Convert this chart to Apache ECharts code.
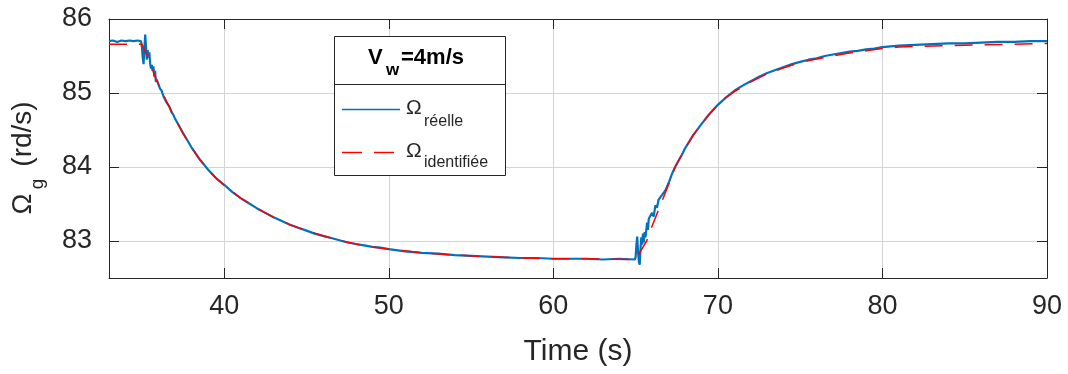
<!DOCTYPE html>
<html>
<head>
<meta charset="utf-8">
<script src="https://cdn.jsdelivr.net/npm/echarts@6/dist/echarts.min.js"></script>
<style>
html,body{margin:0;padding:0;background:#fff;}
#chart{width:1068px;height:374px;}
</style>
</head>
<body>
<div id="chart"></div>
<script>
// Measured signal (Omega réelle)
const timeReal = [
 33.0,33.25,33.5,33.75,34.0,34.25,34.5,34.75,34.95,
 35.0,35.05,35.1,35.15,35.2,35.25,35.3,35.35,35.4,35.45,35.5,35.55,35.6,35.65,35.7,35.75,35.8,35.85,35.9,36.0,36.1,36.2,36.3,36.4,36.5,36.6,36.7,36.8,36.9,37.0,
 37.5,38,38.5,39,39.5,40,40.5,41,41.5,42,42.5,43,43.5,44,44.5,45,45.5,46,46.5,47,47.5,48,48.5,49,49.5,50,
 51,52,53,54,55,56,57,58,59,60,61,62,63,64,64.95,
 65.0,65.05,65.1,65.15,65.2,65.25,65.3,65.35,65.4,65.45,65.5,65.55,65.6,65.7,65.75,65.8,65.9,66.0,66.1,66.2,66.3,66.4,66.5,66.6,66.8,67.0,67.2,67.4,67.6,67.8,
 68,68.5,69,69.5,70,70.5,71,71.5,72,72.5,73,73.5,74,74.5,75,75.5,76,76.5,77,77.5,78,78.5,79,79.5,80,
 81,82,83,84,85,86,87,88,89,90
];
const omegaReal = [
 85.70,85.71,85.69,85.71,85.70,85.71,85.70,85.71,85.70,
 85.62,85.48,85.39,85.60,85.79,85.62,85.45,85.58,85.50,85.55,85.40,85.33,85.38,85.30,85.36,85.22,85.30,85.15,85.18,85.12,85.06,85.03,84.96,84.94,84.87,84.84,84.80,84.74,84.71,84.66,
 84.46,84.27,84.11,83.97,83.85,83.76,83.66,83.58,83.51,83.44,83.38,83.32,83.27,83.22,83.18,83.14,83.10,83.07,83.04,83.01,82.98,82.96,82.94,82.92,82.91,82.89,
 82.86,82.84,82.83,82.81,82.80,82.79,82.78,82.77,82.77,82.76,82.76,82.76,82.75,82.76,82.75,
 82.78,82.95,83.06,82.85,82.72,82.68,82.90,83.05,82.95,83.10,82.98,83.12,83.05,83.25,83.15,83.30,83.28,83.38,83.33,83.48,83.45,83.56,83.55,83.62,83.68,83.78,83.90,84.00,84.08,84.16,
 84.25,84.43,84.58,84.72,84.84,84.94,85.03,85.10,85.16,85.22,85.27,85.31,85.35,85.39,85.42,85.45,85.47,85.50,85.52,85.54,85.56,85.57,85.59,85.60,85.62,
 85.64,85.65,85.66,85.67,85.67,85.68,85.69,85.69,85.70,85.70
];
// Identified model (Omega identifiée)
const timeIdent = [
 33.0,35.0,35.4,35.8,36.2,36.6,37.0,37.5,38,38.5,39,39.5,40,41,42,43,44,45,46,47,48,49,50,52,54,56,58,60,62,65,
 65.67,66,66.5,67,67.4,68,68.5,69,69.5,70,70.5,71,72,73,74,75,76,77,78,79,80,81,82,84,86,88,90
];
const omegaIdent = [
 85.66,85.66,85.47,85.22,85.02,84.84,84.66,84.45,84.27,84.10,83.96,83.85,83.75,83.58,83.44,83.32,83.22,83.14,83.07,83.01,82.96,82.92,82.89,82.84,82.81,82.79,82.77,82.76,82.76,82.75,
 83.00,83.20,83.48,83.76,84.00,84.25,84.43,84.58,84.72,84.84,84.94,85.02,85.15,85.26,85.34,85.41,85.46,85.50,85.54,85.57,85.60,85.62,85.63,85.64,85.65,85.66,85.67
];
const xTicks = [40, 50, 60, 70, 80, 90];
const yTicks = [83, 84, 85, 86];
const xRange = [33, 90];
const yRange = [82.5, 86];

const realData = timeReal.map((t, i) => [t, omegaReal[i]]);
const identData = timeIdent.map((t, i) => [t, omegaIdent[i]]);

const FONT = '"Liberation Sans", Arial, Helvetica, sans-serif';
const DARK = '#262626';
const GRIDC = '#d4d4d4';

const chart = echarts.init(document.getElementById('chart'), null, {renderer: 'canvas'});

function xAxisDef(pos, showLabels) {
  return {
    type: 'value', position: pos, min: xRange[0], max: xRange[1],
    axisLine: {show: true, onZero: false, lineStyle: {color: DARK, width: 1}},
    axisTick: {show: true, inside: true, length: 10, customValues: xTicks, lineStyle: {color: DARK, width: 1}},
    axisLabel: {show: showLabels, customValues: xTicks, margin: 15, color: DARK, fontSize: 27, fontFamily: FONT},
    splitLine: {show: showLabels, lineStyle: {color: GRIDC, width: 1}},
    name: showLabels ? 'Time (s)' : '', nameLocation: 'middle', nameGap: 59,
    nameTextStyle: {color: DARK, fontSize: 30, fontFamily: FONT}
  };
}
function yAxisDef(pos, showLabels) {
  return {
    type: 'value', position: pos, min: yRange[0], max: yRange[1],
    axisLine: {show: true, onZero: false, lineStyle: {color: DARK, width: 1}},
    axisTick: {show: true, inside: true, length: 10, customValues: yTicks, lineStyle: {color: DARK, width: 1}},
    axisLabel: {show: showLabels, customValues: yTicks, margin: 17, color: DARK, fontSize: 27, fontFamily: FONT},
    splitLine: {show: showLabels, lineStyle: {color: GRIDC, width: 1}}
  };
}

const option = {
  backgroundColor: '#ffffff',
  animation: false,
  grid: {left: 109, right: 21, top: 19, bottom: 96, containLabel: false},
  xAxis: [xAxisDef('bottom', true), xAxisDef('top', false)],
  yAxis: [yAxisDef('left', true), yAxisDef('right', false)],
  series: [
    {
      name: 'réelle', type: 'line', data: realData, showSymbol: false, symbol: 'none',
      lineStyle: {color: '#0072BD', width: 2.2}, clip: true
    },
    {
      name: 'identifiée', type: 'line', data: identData, showSymbol: false, symbol: 'none',
      lineStyle: {color: '#FF0000', width: 1.5, type: [18, 12]}, clip: true
    }
  ],
  graphic: [
    // y axis title
    {
      type: 'group', x: 23.5, y: 204, rotation: Math.PI / 2,
      children: [
        {type: 'text', x: 0, y: 0, style: {text: 'Ω', font: '28px ' + FONT, fill: DARK, align: 'center', verticalAlign: 'middle'}},
        {type: 'text', x: 20, y: 14, style: {text: 'g', font: '19px ' + FONT, fill: DARK, align: 'center', verticalAlign: 'middle'}},
        {type: 'text', x: 70, y: 0, style: {text: '(rd/s)', font: '28px ' + FONT, fill: DARK, align: 'center', verticalAlign: 'middle'}}
      ]
    },
    // legend box
    {type: 'rect', shape: {x: 334.5, y: 36.5, width: 171, height: 139}, style: {fill: '#fff', stroke: DARK, lineWidth: 1}, z: 100},
    {type: 'line', shape: {x1: 334.5, y1: 84.5, x2: 505.5, y2: 84.5}, style: {stroke: DARK, lineWidth: 1}, z: 101},
    {type: 'text', x: 368, y: 58, style: {text: 'V', font: 'bold 22px ' + FONT, fill: '#000', align: 'left', verticalAlign: 'middle'}, z: 101},
    {type: 'text', x: 386, y: 70, style: {text: 'w', font: 'bold 17px ' + FONT, fill: '#000', align: 'left', verticalAlign: 'middle'}, z: 101},
    {type: 'text', x: 401, y: 58, style: {text: '=4m/s', font: 'bold 22px ' + FONT, fill: '#000', align: 'left', verticalAlign: 'middle'}, z: 101},
    {type: 'line', shape: {x1: 342, y1: 109.5, x2: 400, y2: 109.5}, style: {stroke: '#0072BD', lineWidth: 1.5}, z: 101},
    {type: 'text', x: 406, y: 108, style: {text: 'Ω', font: '21px ' + FONT, fill: DARK, align: 'left', verticalAlign: 'middle'}, z: 101},
    {type: 'text', x: 424, y: 122, style: {text: 'réelle', font: '16px ' + FONT, fill: DARK, align: 'left', verticalAlign: 'middle'}, z: 101},
    {type: 'line', shape: {x1: 342, y1: 152.5, x2: 400, y2: 152.5}, style: {stroke: '#FF0000', lineWidth: 1.5, lineDash: [20, 12]}, z: 101},
    {type: 'text', x: 406, y: 151.5, style: {text: 'Ω', font: '21px ' + FONT, fill: DARK, align: 'left', verticalAlign: 'middle'}, z: 101},
    {type: 'text', x: 424, y: 163, style: {text: 'identifiée', font: '16px ' + FONT, fill: DARK, align: 'left', verticalAlign: 'middle'}, z: 101}
  ]
};
chart.setOption(option);
</script>
</body>
</html>
